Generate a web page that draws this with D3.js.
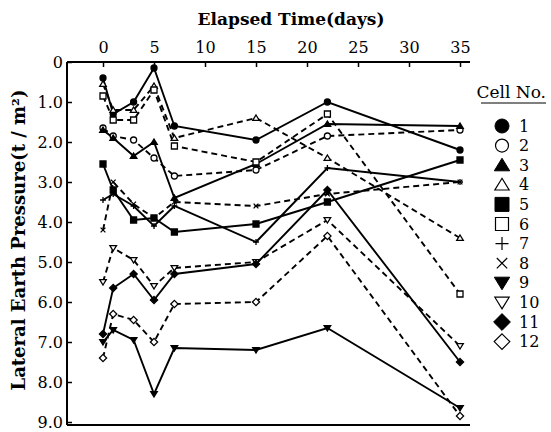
<!DOCTYPE html>
<html>
<head>
<meta charset="utf-8">
<script src="https://cdn.jsdelivr.net/npm/d3@7"></script>
<style>
  html, body { margin: 0; padding: 0; background: #fff; }
  svg { display: block; }
  text { font-family: "DejaVu Serif", "Liberation Serif", serif; fill: #000; }
</style>
</head>
<body>
<div id="chart"></div>
<script>
// Lateral earth pressure per cell over elapsed time (days)
const days = [0, 1, 3, 5, 7, 15, 22, 35];
const cell1  = [0.4, 1.3, 1.0, 0.15, 1.6, 1.95, 1.0, 2.2];
const cell2  = [1.65, 1.85, 1.95, 2.4, 2.85, 2.7, 1.85, 1.7];
const cell3  = [1.7, 1.9, 2.35, 2.0, 3.4, 2.55, 1.55, 1.6];
const cell4  = [0.55, 1.2, 1.2, 0.6, 1.9, 1.4, 2.4, 4.4];
const cell5  = [2.55, 3.2, 3.95, 3.9, 4.25, 4.05, 3.5, 2.45];
const cell6  = [0.85, 1.45, 1.45, 0.7, 2.1, 2.5, 1.3, 5.8];
const cell7  = [3.45, 3.3, 3.6, 4.1, 3.6, 4.5, 2.65, 3.0];
const cell8  = [4.2, 3.0, 3.55, 3.9, 3.5, 3.6, 3.3, 3.0];
const cell9  = [7.0, 6.7, 6.95, 8.3, 7.15, 7.2, 6.65, 8.65];
const cell10 = [5.5, 4.65, 4.95, 5.6, 5.15, 5.0, 3.95, 7.1];
const cell11 = [6.8, 5.65, 5.3, 5.95, 5.3, 5.05, 3.2, 7.5];
const cell12 = [7.4, 6.3, 6.45, 7.0, 6.05, 6.0, 4.35, 8.85];

const cellNames = ["1", "2", "3", "4", "5", "6", "7", "8", "9", "10", "11", "12"];
const cellValues = [cell1, cell2, cell3, cell4, cell5, cell6, cell7, cell8, cell9, cell10, cell11, cell12];
const xTicks = [0, 5, 10, 15, 20, 25, 30, 35];
const yTicks = [0, 1, 2, 3, 4, 5, 6, 7, 8, 9];

// marker per cell: shape, filled?
const markers = [
  { shape: "circle", fill: true },  { shape: "circle", fill: false },
  { shape: "tri", fill: true },     { shape: "tri", fill: false },
  { shape: "square", fill: true },  { shape: "square", fill: false },
  { shape: "plus", fill: false },   { shape: "times", fill: false },
  { shape: "tridown", fill: true }, { shape: "tridown", fill: false },
  { shape: "diamond", fill: true }, { shape: "diamond", fill: false }
];

const W = 551, H = 432;
const svg = d3.select("#chart").append("svg").attr("width", W).attr("height", H);

const x = d3.scaleLinear().domain([-3.53, 35.98]).range([67, 470]);
const y = d3.scaleLinear().domain([0, 9.075]).range([62, 425]);

// frame: top, left, bottom
svg.append("g").attr("transform", `translate(0,${y(0)})`)
  .call(d3.axisTop(x).tickValues(xTicks).tickSize(-5).tickPadding(9).tickFormat(d3.format("d")))
  .call(g => g.select(".domain").attr("d", `M${x.range()[0]},0H${x.range()[1]}`).attr("stroke-width", 2))
  .call(g => g.selectAll("line").attr("stroke-width", 1.5))
  .call(g => g.selectAll("text").attr("font-size", 16).style("font-family", "DejaVu Serif"));

svg.append("g").attr("transform", `translate(${x.range()[0]},0)`)
  .call(d3.axisLeft(y).tickValues(yTicks).tickSize(-5).tickPadding(4)
    .tickFormat(d => d === 0 ? "0" : d3.format(".1f")(d)))
  .call(g => g.select(".domain").attr("d", `M0,${y.range()[0]}V${y.range()[1]}`).attr("stroke-width", 2))
  .call(g => g.selectAll("line").attr("stroke-width", 1.5))
  .call(g => g.selectAll("text").attr("font-size", 16).style("font-family", "DejaVu Serif"));

svg.append("line")
  .attr("x1", x.range()[0]).attr("x2", x.range()[1])
  .attr("y1", y.range()[1]).attr("y2", y.range()[1])
  .attr("stroke", "#000").attr("stroke-width", 2);

svg.append("text").attr("x", 291).attr("y", 25).attr("text-anchor", "middle")
  .attr("font-size", 17).attr("font-weight", "bold").text("Elapsed Time(days)");

svg.append("text").attr("transform", "translate(25,240) rotate(-90)").attr("text-anchor", "middle")
  .attr("font-size", 18).attr("font-weight", "bold").text("Lateral Earth Pressure(t / m²)");

function symbolPath(shape, s) {
  // s = rough half-width
  switch (shape) {
    case "circle": return d3.symbol(d3.symbolCircle, Math.PI * s * s)();
    case "square": return `M${-s},${-s}H${s}V${s}H${-s}Z`;
    case "diamond": return `M0,${-s * 1.2}L${s * 1.2},0L0,${s * 1.2}L${-s * 1.2},0Z`;
    case "tri": return `M0,${-s}L${s * 1.1},${s * 0.8}L${-s * 1.1},${s * 0.8}Z`;
    case "tridown": return `M0,${s}L${s * 1.1},${-s * 0.8}L${-s * 1.1},${-s * 0.8}Z`;
    case "plus": return `M${-s},0H${s}M0,${-s}V${s}`;
    case "times": return `M${-s * 0.8},${-s * 0.8}L${s * 0.8},${s * 0.8}M${s * 0.8},${-s * 0.8}L${-s * 0.8},${s * 0.8}`;
  }
}

function drawMarker(sel, m, s, sw) {
  const open = m.shape === "plus" || m.shape === "times";
  sel.append("path")
    .attr("d", symbolPath(m.shape, s))
    .attr("fill", open ? "none" : (m.fill ? "#000" : "#fff"))
    .attr("stroke", "#000")
    .attr("stroke-width", sw);
}

const line = d3.line().x((d, i) => x(days[i])).y(d => y(d));

// lines: filled-marker cells solid, open-marker cells dashed
const gLines = svg.append("g");
cellValues.forEach((vals, k) => {
  gLines.append("path")
    .attr("d", line(vals))
    .attr("fill", "none")
    .attr("stroke", "#000")
    .attr("stroke-width", 1.9)
    .attr("stroke-dasharray", k % 2 === 1 ? "6,4" : null);
});

const gPts = svg.append("g");
cellValues.forEach((vals, k) => {
  vals.forEach((v, i) => {
    const g = gPts.append("g").attr("transform", `translate(${x(days[i])},${y(v)})`);
    drawMarker(g, markers[k], 3, 1.3);
  });
});

// legend
const gLeg = svg.append("g");
gLeg.append("text").attr("x", 546).attr("y", 98).attr("text-anchor", "end")
  .attr("font-size", 17).text("Cell No.");
gLeg.append("line").attr("x1", 481).attr("x2", 546).attr("y1", 103).attr("y2", 103)
  .attr("stroke", "#000").attr("stroke-width", 1.2);

cellNames.forEach((name, k) => {
  const ry = 126 + k * 19.6;
  const g = gLeg.append("g").attr("transform", `translate(502,${ry})`);
  drawMarker(g, markers[k], markers[k].fill ? 7 : 6.5, markers[k].fill ? 1 : 1.2);
  gLeg.append("text").attr("x", 519).attr("y", ry + 5.5).attr("font-size", 16).text(name);
});
</script>
</body>
</html>
